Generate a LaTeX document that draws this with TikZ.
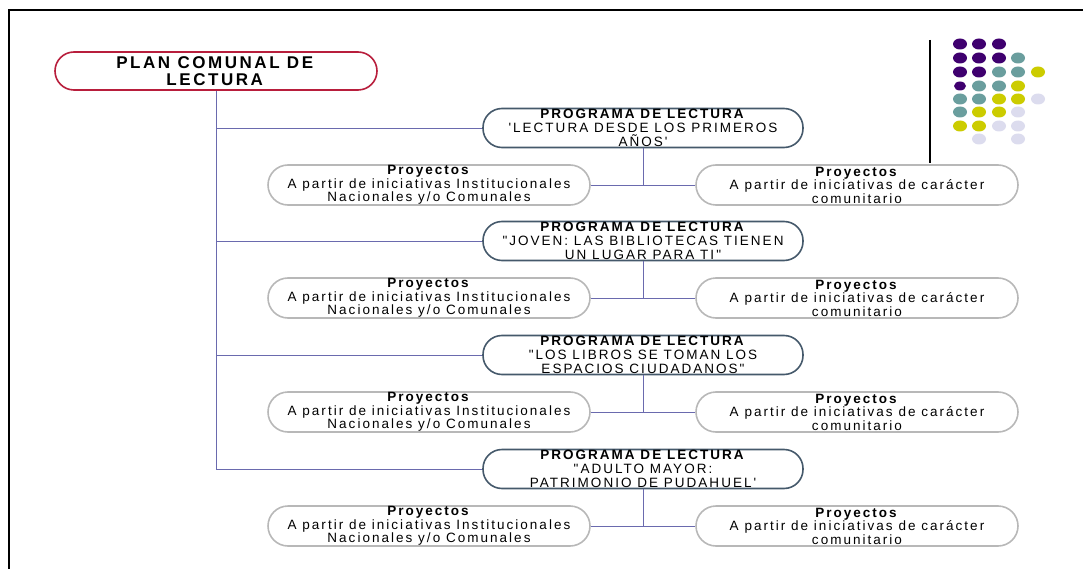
\documentclass[tikz,border=0pt]{standalone}
\usepackage{fontspec}
\newfontfamily\diagfont[LetterSpace=15]{Liberation Sans}
\usetikzlibrary{positioning}
\definecolor{planred}{HTML}{B81E3C}
\definecolor{prgblue}{HTML}{45596B}
\definecolor{prjgray}{HTML}{B8B8B8}
\definecolor{connblue}{HTML}{6A6AAE}
\definecolor{dotpurple}{HTML}{3F006F}
\definecolor{dotteal}{HTML}{6A9E9E}
\definecolor{dotyellow}{HTML}{CCCC00}
\definecolor{dotlav}{HTML}{DCDCEE}

\begin{document}
\begin{tikzpicture}[x=1pt, y=-1pt,
			pln/.style={draw=planred, line width=1.6pt, rounded corners=19pt, fill=white,
				minimum width=322pt, minimum height=38pt, inner sep=0pt, align=center,
				font=\diagfont\fontsize{17}{17}\selectfont},
			prg/.style={draw=prgblue, line width=1.6pt, rounded corners=19pt, fill=white,
				minimum width=320pt, minimum height=39pt, inner sep=0pt, align=center,
				font=\diagfont\fontsize{13.5}{14}\selectfont},
			prj/.style={draw=prjgray, line width=1.6pt, rounded corners=20pt, fill=white,
				minimum width=322pt, minimum height=40pt, inner sep=0pt, align=center,
				font=\diagfont\fontsize{13.5}{13.5}\selectfont},
			conn/.style={draw=connblue, line width=0.9pt}
			]
			\useasboundingbox (0,0) rectangle (1083,569);
			\draw[line width=2.5pt] (9,569) -- (9,10) -- (1083,10);
			
			\node[pln] (plan) at (216,71) {\textbf{PLAN COMUNAL DE}\\\textbf{LECTURA}};
			
			\node[prg] (p1) at (643,128) {\textbf{PROGRAMA DE LECTURA}\\'LECTURA DESDE LOS PRIMEROS\\AÑOS'};
			\node[prg] (p2) at (643,241) {\textbf{PROGRAMA DE LECTURA}\\"JOVEN: LAS BIBLIOTECAS TIENEN\\UN LUGAR PARA TI"};
			\node[prg] (p3) at (643,355) {\textbf{PROGRAMA DE LECTURA}\\"LOS LIBROS SE TOMAN LOS\\ESPACIOS CIUDADANOS"};
			\node[prg] (p4) at (643,469) {\textbf{PROGRAMA DE LECTURA}\\"ADULTO MAYOR:\\PATRIMONIO DE PUDAHUEL'};
			
			\node[prj] (l1) at (429,185) {\textbf{Proyectos}\\A partir de iniciativas Institucionales\\Nacionales y/o Comunales};
			\node[prj] (r1) at (857,185) {\textbf{Proyectos}\\A partir de iniciativas de carácter\\comunitario};
			\node[prj] (l2) at (429,298) {\textbf{Proyectos}\\A partir de iniciativas Institucionales\\Nacionales y/o Comunales};
			\node[prj] (r2) at (857,298) {\textbf{Proyectos}\\A partir de iniciativas de carácter\\comunitario};
			\node[prj] (l3) at (429,412) {\textbf{Proyectos}\\A partir de iniciativas Institucionales\\Nacionales y/o Comunales};
			\node[prj] (r3) at (857,412) {\textbf{Proyectos}\\A partir de iniciativas de carácter\\comunitario};
			\node[prj] (l4) at (429,526) {\textbf{Proyectos}\\A partir de iniciativas Institucionales\\Nacionales y/o Comunales};
			\node[prj] (r4) at (857,526) {\textbf{Proyectos}\\A partir de iniciativas de carácter\\comunitario};
			
			\draw[conn] (plan.south) |- (p1.west);
			\draw[conn] (plan.south) |- (p2.west);
			\draw[conn] (plan.south) |- (p3.west);
			\draw[conn] (plan.south) |- (p4.west);
			
			\draw[conn] (l1.east) -- (r1.west);
			\draw[conn] (p1.south) -- (p1.south |- l1.east);
			\draw[conn] (l2.east) -- (r2.west);
			\draw[conn] (p2.south) -- (p2.south |- l2.east);
			\draw[conn] (l3.east) -- (r3.west);
			\draw[conn] (p3.south) -- (p3.south |- l3.east);
			\draw[conn] (l4.east) -- (r4.west);
			\draw[conn] (p4.south) -- (p4.south |- l4.east);
			
			\draw[line width=1.4pt] (930,40) -- (930,163);
			\fill[dotpurple] (960,44) ellipse (7pt and 5.5pt) (979,44) ellipse (7pt and 5.5pt) (999,44) ellipse (7pt and 5.5pt)
				(960,58) ellipse (7pt and 5.5pt) (979,58) ellipse (7pt and 5.5pt) (999,58) ellipse (7pt and 5.5pt)
				(960,72) ellipse (7pt and 5.5pt) (979,72) ellipse (7pt and 5.5pt) (960,86) ellipse (6pt and 4.5pt);
			\fill[dotteal] (1018,58) ellipse (7pt and 5.5pt) (999,72) ellipse (7pt and 5.5pt) (1018,72) ellipse (7pt and 5.5pt)
				(979,86) ellipse (7pt and 5.5pt) (999,86) ellipse (7pt and 5.5pt) (960,99) ellipse (7pt and 5.5pt)
				(979,99) ellipse (7pt and 5.5pt) (960,112) ellipse (7pt and 5.5pt);
			\fill[dotyellow] (1038,72) ellipse (7pt and 5.5pt) (1018,86) ellipse (7pt and 5.5pt) (999,99) ellipse (7pt and 5.5pt)
				(1018,99) ellipse (7pt and 5.5pt) (979,112) ellipse (7pt and 5.5pt) (999,112) ellipse (7pt and 5.5pt)
				(960,126) ellipse (7pt and 5.5pt) (979,126) ellipse (7pt and 5.5pt);
			\fill[dotlav] (1038,99) ellipse (7pt and 5.5pt) (1018,112) ellipse (7pt and 5.5pt) (999,126) ellipse (7pt and 5.5pt)
				(1018,126) ellipse (7pt and 5.5pt) (979,139) ellipse (7pt and 5.5pt) (1018,139) ellipse (7pt and 5.5pt);
	\end{tikzpicture}
\end{document}
